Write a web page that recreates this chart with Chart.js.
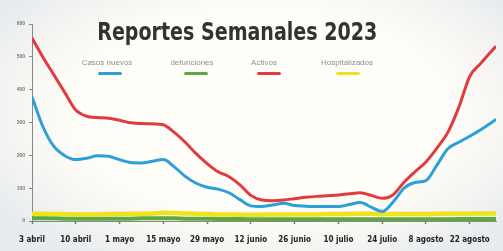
<!DOCTYPE html>
<html>
<head>
<meta charset="utf-8">
<script src="https://cdn.jsdelivr.net/npm/chart.js@4/dist/chart.umd.min.js"></script>
<style>
  html, body { margin: 0; padding: 0; }
  body {
    width: 503px; height: 251px; overflow: hidden;
    background: radial-gradient(ellipse 62% 68% at 52% 45%, #fffdf8 60%, #f4f4f2 82%, #e8ecef 100%);
  }
  #wrap { position: relative; width: 503px; height: 251px; }
  #c { position: absolute; left: 0; top: 0; }
  #title {
    position: absolute; left: 0; width: 474px; top: 17px; text-align: center;
    font-family: 'Liberation Sans Narrow', 'DejaVu Sans Condensed', sans-serif;
    font-weight: bold; font-size: 25px; color: #333; line-height: 30px;
  }
  #title span { display: inline-block; transform-origin: 50% 50%; white-space: nowrap; }
  .lg { position: absolute; top: 58px; font-family: 'Liberation Sans', Arial, sans-serif;
    font-size: 8px; color: #8f8f8f; line-height: 10px; text-align: center; white-space: nowrap; }
  .bar { position: absolute; top: 72px; height: 3px; width: 24px; border-radius: 1.5px; }
</style>
</head>
<body>
<div id="wrap">
  <canvas id="c" width="503" height="251"></canvas>
  <div id="title"><span>Reportes Semanales 2023</span></div>
  <div id="legend"></div>
</div>
<script>
// ---- data ----
const tickLabels = ['3 abril','10 abril','1 mayo','15 mayo','29 mayo','12 junio','26 junio','10 julio','24 julio','8 agosto','22 agosto'];
const seriesNames = ['Casos nuevos','defunciones','Activos','Hospitalizados'];
const xPos = [0,0.25,0.5,0.75,1,1.25,1.5,1.75,2,2.25,2.5,2.75,3,3.25,3.5,3.75,4,4.25,4.5,4.75,5,5.25,5.5,5.75,6,6.25,6.5,6.75,7,7.25,7.5,7.75,8,8.25,8.5,8.75,9,9.25,9.5,9.75,10,10.25,10.5,10.6];
const casosNuevos = [378,287,227,199,187,191,199,197,187,178,177,182,187,165,136,115,103,97,86,65,46,44,49,54,47,45,44,44,44,50,56,42,29,58,100,117,123,170,220,240,258,278,300,310];
const defunciones = [8,8,8,7,7,7,7,7,7,7,8,8,8,8,7,7,7,6,6,6,5,5,5,5,5,5,5,5,5,5,5,5,5,5,5,5,5,5,5,6,6,6,6,6];
const activos = [557,499,445,391,338,319,315,313,307,299,297,296,293,270,240,205,175,150,135,110,78,64,62,64,68,72,75,77,79,83,86,78,69,80,118,150,180,222,270,346,440,480,518,532];
const hospitalizados = [22,22,21,21,20,20,20,21,21,22,22,23,25,24,23,22,21,20,20,19,19,19,20,20,20,20,20,21,21,22,22,22,21,21,21,21,21,22,22,22,22,23,23,23];
const yTicks = [0,100,200,300,400,500,600];

const colors = ['#2a9fd8','#5aab3c','#e23b3f','#f0e21f'];
const toPts = arr => arr.map((v,i) => ({x: xPos[i], y: v}));

// fit title width to reference (~280px)
const ts = document.querySelector('#title span');
const tw = ts.getBoundingClientRect().width;
ts.style.transform = 'scaleX(' + (280 / tw) + ')';

// legend overlay
const lgPos = [[107,109.5],[192,196],[264,269],[347,348]];
const legend = document.getElementById('legend');
seriesNames.forEach((n,i) => {
  const t = document.createElement('div');
  t.className = 'lg'; t.textContent = n;
  t.style.left = (lgPos[i][0] - 40) + 'px'; t.style.width = '80px';
  legend.appendChild(t);
  const b = document.createElement('div');
  b.className = 'bar'; b.style.background = colors[i];
  b.style.left = (lgPos[i][1] - 12) + 'px';
  legend.appendChild(b);
});

const mk = (label, data, color, width, order) => ({
  label, data: toPts(data), borderColor: color, backgroundColor: color,
  borderWidth: width, pointRadius: 0, tension: 0.4, cubicInterpolationMode: 'monotone',
  fill: false, order
});

new Chart(document.getElementById('c'), {
  type: 'line',
  data: {
    datasets: [
      mk(seriesNames[0], casosNuevos, colors[0], 3, 1),
      mk(seriesNames[2], activos, colors[2], 3, 0),
      mk(seriesNames[3], hospitalizados, colors[3], 4.5, 2),
      mk(seriesNames[1], defunciones, colors[1], 4, 3)
    ]
  },
  options: {
    responsive: false, animation: false,
    layout: { padding: { top: 24, right: 7, left: 0, bottom: 0 } },
    plugins: { legend: { display: false }, title: { display: false }, tooltip: { enabled: false } },
    scales: {
      x: {
        type: 'linear', min: 0, max: 10.6,
        afterFit: s => { s.height = 30; },
        grid: { drawOnChartArea: false, tickLength: 3, color: '#777', tickWidth: 1.5 },
        border: { color: '#888', width: 1 },
        ticks: {
          stepSize: 1, includeBounds: false, autoSkip: false, maxRotation: 0, padding: 11,
          color: '#222',
          font: { family: "'Liberation Sans Narrow', 'DejaVu Sans Condensed', sans-serif", weight: 'bold', size: 8 },
          callback: v => tickLabels[v] || ''
        }
      },
      y: {
        min: 0, max: 600,
        afterFit: s => { s.width = 32; },
        afterBuildTicks: s => { s.ticks = yTicks.map(v => ({value: v})); },
        grid: { drawOnChartArea: false, tickLength: 3, color: '#888' },
        border: { color: '#888', width: 1 },
        ticks: { color: '#777', padding: 4, font: { family: 'Liberation Sans, sans-serif', size: 5, weight: 'bold' } }
      }
    }
  }
});
</script>
</body>
</html>
